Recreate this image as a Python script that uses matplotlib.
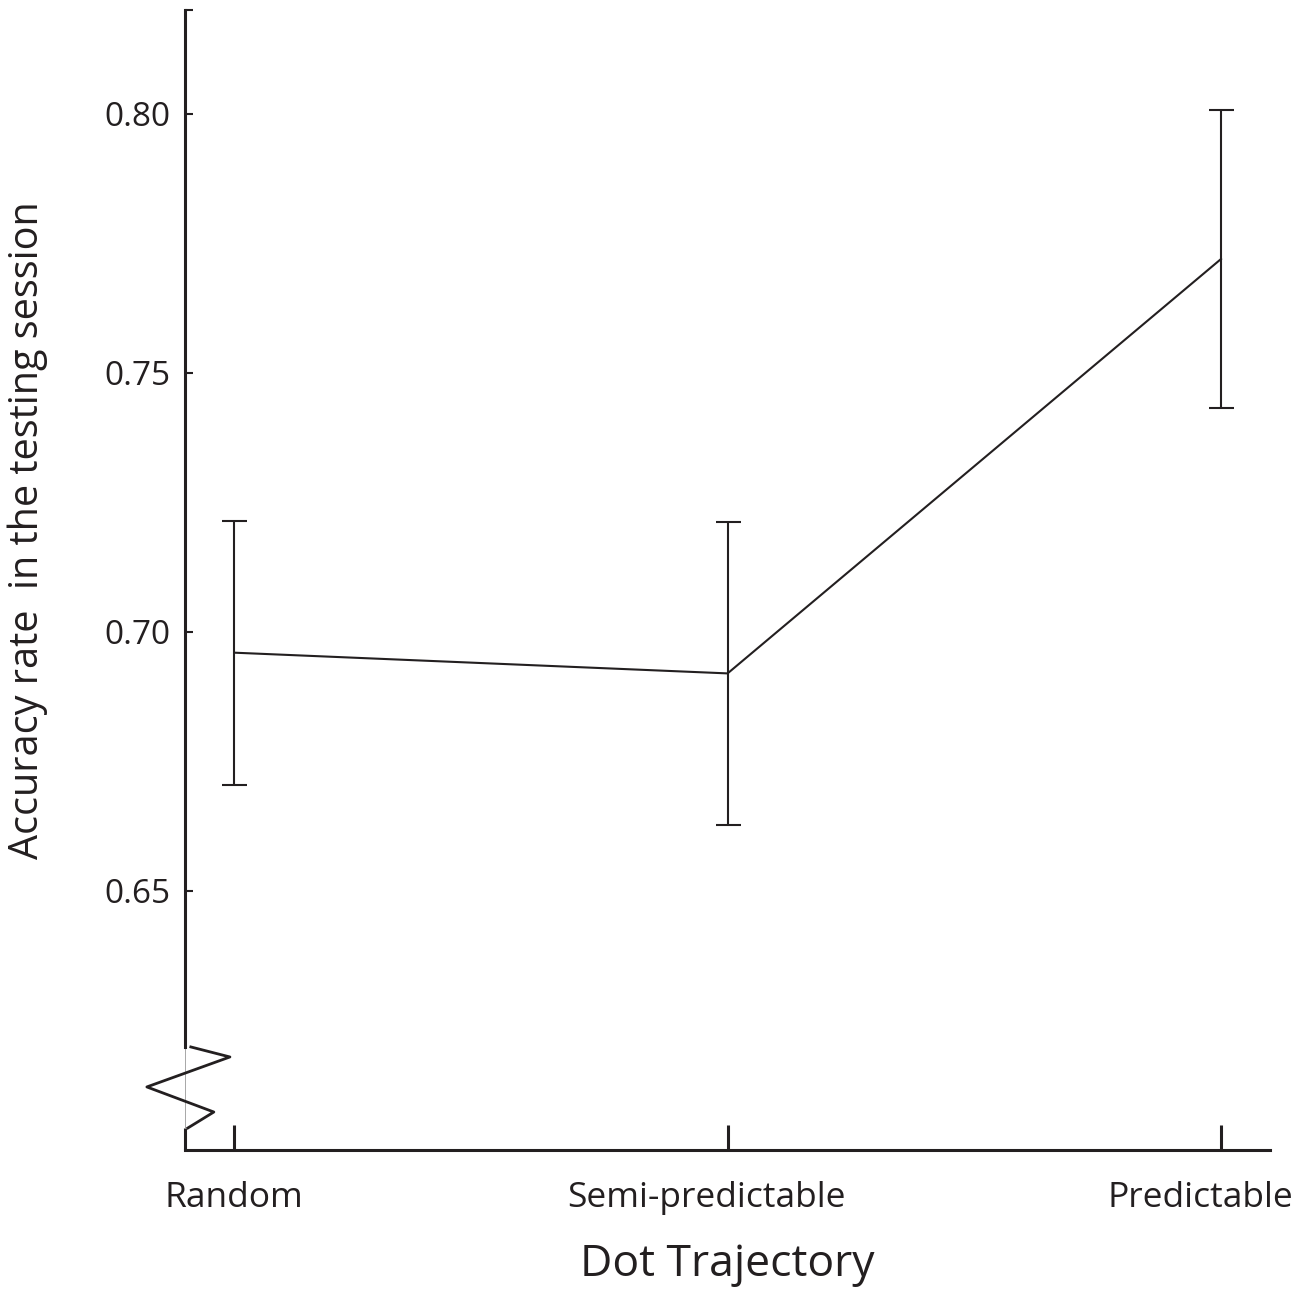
import numpy as np
import matplotlib
matplotlib.use('Agg')
import matplotlib.pyplot as plt
import matplotlib.transforms as mtransforms

plt.rcParams['font.family'] = ['Open Sans', 'DejaVu Sans']

# data
conditions = ['Random', 'Semi-predictable', 'Predictable']
accuracy = [0.696, 0.692, 0.772]
errors = [0.0255, 0.0293, 0.0287]
y_ticks = [0.65, 0.70, 0.75, 0.80, 0.82]
y_labels = ['0.65', '0.70', '0.75', '0.80', '']

INK = '#231f20'


def main():
    fig = plt.figure(figsize=(13.11, 12.95), dpi=100)
    ax = fig.add_axes([0.141, 0.112, 0.828, 0.880])

    x = np.arange(len(conditions))
    ax.errorbar(x, accuracy, yerr=errors, color=INK, lw=1.5,
                elinewidth=1.5, capsize=9, capthick=1.5)

    ax.set_xlim(-0.1, 2.1)
    ax.set_ylim(0.60, 0.82)
    ax.set_xticks(x)
    ax.set_xticklabels(conditions, fontsize=25.5)
    ax.set_yticks(y_ticks)
    ax.set_yticklabels(y_labels, fontsize=24)
    ax.tick_params(axis='x', direction='in', length=18, width=2.2,
                   color=INK, pad=22, labelcolor=INK)
    ax.tick_params(axis='y', direction='in', length=6, width=1.5,
                   color=INK, pad=10, labelcolor=INK)

    # the last two category labels sit a little left of their ticks
    shift = mtransforms.ScaledTranslation(-0.21, 0, fig.dpi_scale_trans)
    for lab in ax.get_xticklabels()[1:]:
        lab.set_transform(lab.get_transform() + shift)

    for side in ('top', 'right'):
        ax.spines[side].set_visible(False)
    for side in ('left', 'bottom'):
        ax.spines[side].set_linewidth(2.2)
        ax.spines[side].set_color(INK)

    # axis break on the y axis
    ax.spines['left'].set_bounds(0.6199, 0.82)
    tr = ax.transAxes
    ax.plot([0, 0], [0, 0.0193], color=INK, lw=2.2, transform=tr,
            clip_on=False, solid_capstyle='butt')
    ax.plot([0, 0], [0.0193, 0.0904], color='#999999', lw=0.6,
            transform=tr, clip_on=False)
    zx = [0.0055, 0.0415, -0.035, 0.0267, 0.0028]
    zy = [0.0904, 0.0816, 0.0553, 0.0333, 0.0193]
    ax.plot(zx, zy, color=INK, lw=2.0, transform=tr, clip_on=False)

    ax.set_xlabel('Dot Trajectory', fontsize=32, color=INK, labelpad=20)
    ax.set_ylabel('Accuracy rate  in the testing session', fontsize=28.5,
                  color=INK)
    ax.yaxis.set_label_coords(-0.126, 0.544)

    fig.savefig('out.png', dpi=100)
    plt.close(fig)


if __name__ == '__main__':
    main()
